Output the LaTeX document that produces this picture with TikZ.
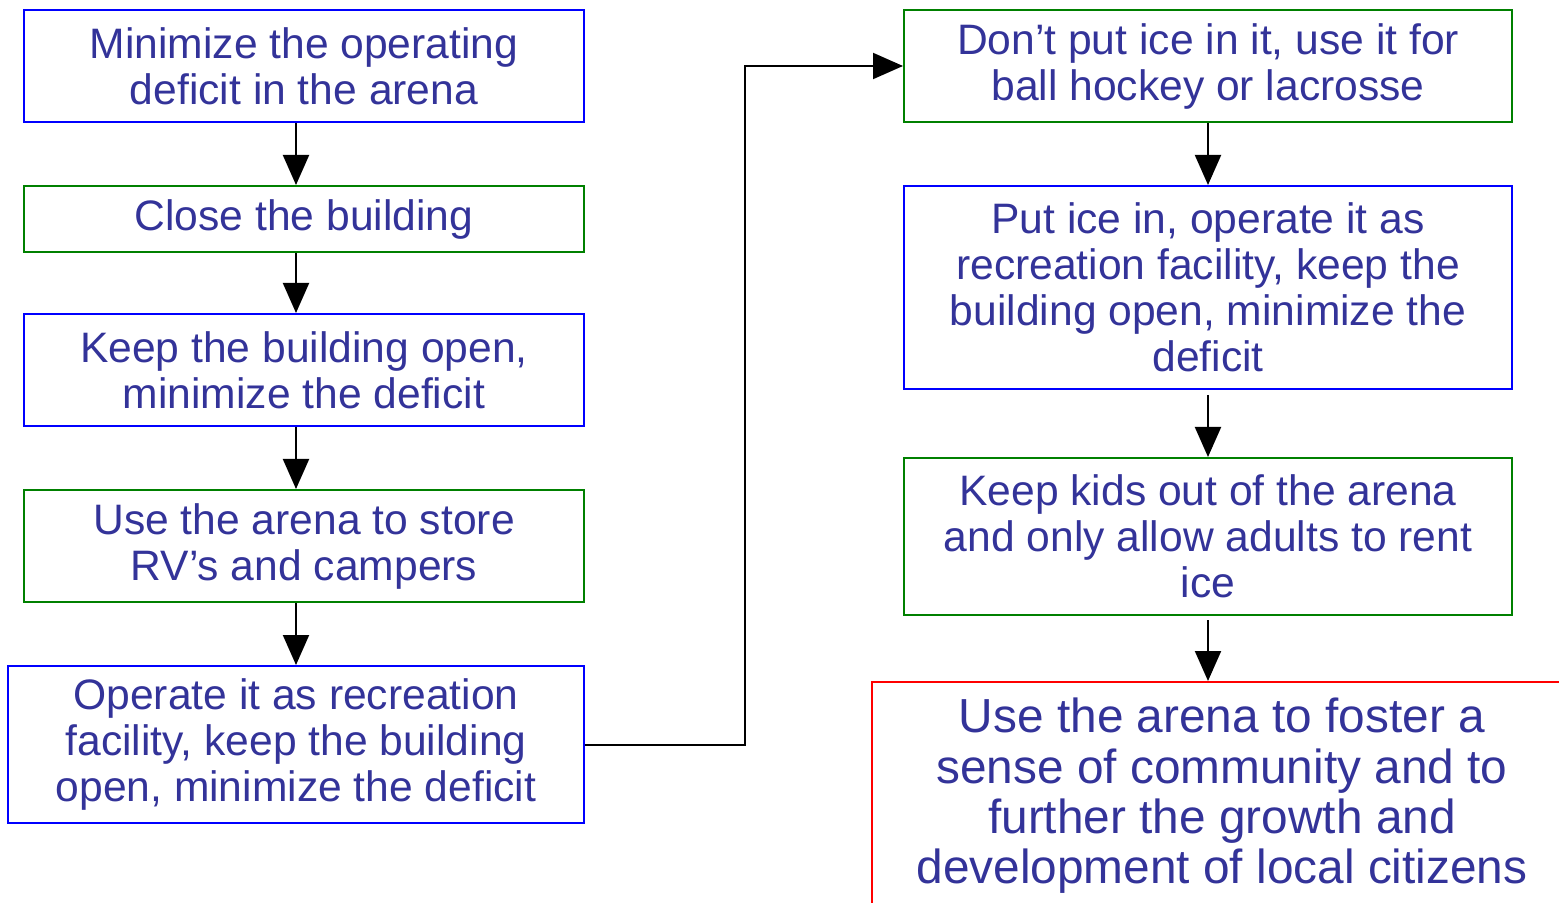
\documentclass[tikz,border=0pt]{standalone}
\usepackage{fontspec}
\setmainfont{Liberation Sans}
\usetikzlibrary{arrows.meta,calc}
\definecolor{txtblue}{HTML}{333399}
\definecolor{bblue}{HTML}{0000FF}
\definecolor{bgreen}{HTML}{008000}
\definecolor{bred}{HTML}{FF0000}
\tikzset{
  box/.style={draw, line width=1pt, align=center, text=txtblue, inner sep=0pt,
    font=\fontsize{21.3}{23}\selectfont},
  bluebox/.style={box, draw=bblue},
  greenbox/.style={box, draw=bgreen},
  redbox/.style={box, draw=bred, font=\fontsize{23.9}{25.2}\selectfont},
  arr/.style={draw=black, line width=1pt, -{Triangle[length=15pt,width=13pt]}}
}
\begin{document}
\begin{tikzpicture}[x=0.5pt,y=-0.5pt]
\useasboundingbox (0,0) rectangle (1559,903);
\clip (0,0) rectangle (1559,903);
\node[bluebox, minimum width=280pt, minimum height=56pt] (b1) at (304,66) {Minimize the operating\\deficit in the arena};
\node[greenbox, minimum width=280pt, minimum height=33pt] (b2) at (304,219) {Close the building};
\node[bluebox, minimum width=280pt, minimum height=56pt] (b3) at (304,370) {Keep the building open,\\minimize the deficit};
\node[greenbox, minimum width=280pt, minimum height=56pt] (b4) at (304,546) {Use the arena to store\\RV’s and campers};
\node[bluebox, minimum width=288pt, minimum height=78.5pt] (b5) at (296,744.5) {Operate it as recreation\\facility, keep the building\\open, minimize the deficit};
\node[greenbox, minimum width=304pt, minimum height=56pt] (r1) at (1208,66) {Don’t put ice in it, use it for\\ball hockey or lacrosse};
\node[bluebox, minimum width=304pt, minimum height=101.5pt] (r2) at (1208,287.5) {Put ice in, operate it as\\recreation facility, keep the\\building open, minimize the\\deficit};
\node[greenbox, minimum width=304pt, minimum height=78.5pt] (r3) at (1208,536.5) {Keep kids out of the arena\\and only allow adults to rent\\ice};
\node[redbox, minimum width=350pt, minimum height=114pt] (r4) at (1222,796) {Use the arena to foster a\\sense of community and to\\further the growth and\\development of local citizens};
\draw[arr] (b1.south -| b5.center) -- (b2.north -| b5.center);
\draw[arr] (b2.south -| b5.center) -- (b3.north -| b5.center);
\draw[arr] (b3.south -| b5.center) -- (b4.north -| b5.center);
\draw[arr] (b4.south -| b5.center) -- (b5.north);
\draw[arr] (b5.east) -- ++(160,0) |- (r1.west);
\draw[arr] (r1.south) -- (r2.north);
\draw[arr, shorten <=2.5pt] (r2.south) -- (r3.north);
\draw[arr, shorten <=2pt] (r3.south) -- (r3.south |- r4.north);
\end{tikzpicture}
\end{document}
